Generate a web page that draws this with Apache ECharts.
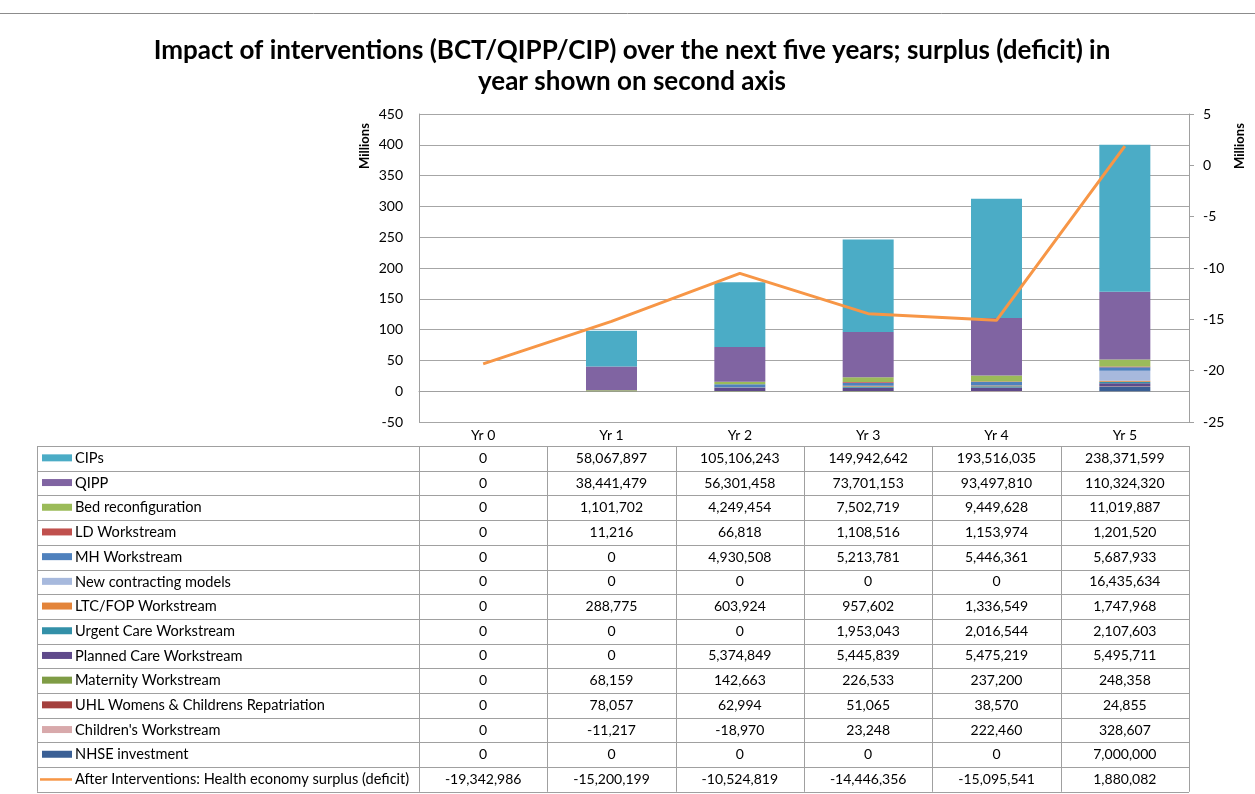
<!DOCTYPE html>
<html>
<head>
<meta charset="utf-8">
<script src="https://cdn.jsdelivr.net/npm/echarts@6/dist/echarts.min.js"></script>
<style>
  html, body { margin: 0; padding: 0; background: #fff; }
  #main { width: 1255px; height: 794px; }
</style>
</head>
<body>
<div id="main"></div>
<script>
const categories = ['Yr 0', 'Yr 1', 'Yr 2', 'Yr 3', 'Yr 4', 'Yr 5']

const cips = [0, 58067897, 105106243, 149942642, 193516035, 238371599]
const qipp = [0, 38441479, 56301458, 73701153, 93497810, 110324320]
const bedReconfiguration = [0, 1101702, 4249454, 7502719, 9449628, 11019887]
const ldWorkstream = [0, 11216, 66818, 1108516, 1153974, 1201520]
const mhWorkstream = [0, 0, 4930508, 5213781, 5446361, 5687933]
const newContracting = [0, 0, 0, 0, 0, 16435634]
const ltcFopWorkstream = [0, 288775, 603924, 957602, 1336549, 1747968]
const urgentCare = [0, 0, 0, 1953043, 2016544, 2107603]
const plannedCare = [0, 0, 5374849, 5445839, 5475219, 5495711]
const maternity = [0, 68159, 142663, 226533, 237200, 248358]
const uhlRepatriation = [0, 78057, 62994, 51065, 38570, 24855]
const childrens = [0, -11217, -18970, 23248, 222460, 328607]
const nhseInvestment = [0, 0, 0, 0, 0, 7000000]
const surplus = [-19342986, -15200199, -10524819, -14446356, -15095541, 1880082]

const leftTicks = { min: -50e6, max: 450e6, interval: 50e6 }
const rightTicks = { min: -25e6, max: 5e6, interval: 5e6 }

// table order (top to bottom); bars stack in reverse order
const barRows = [
  { name: 'CIPs', data: cips, color: '#4BACC6' },
  { name: 'QIPP', data: qipp, color: '#8064A2' },
  { name: 'Bed reconfiguration', data: bedReconfiguration, color: '#9BBB59' },
  { name: 'LD Workstream', data: ldWorkstream, color: '#C0504D' },
  { name: 'MH Workstream', data: mhWorkstream, color: '#4F81BD' },
  { name: 'New contracting models', data: newContracting, color: '#A7B9DD' },
  { name: 'LTC/FOP Workstream', data: ltcFopWorkstream, color: '#E3843A' },
  { name: 'Urgent Care Workstream', data: urgentCare, color: '#3390A8' },
  { name: 'Planned Care Workstream', data: plannedCare, color: '#5F4A8B' },
  { name: 'Maternity Workstream', data: maternity, color: '#7F9C45' },
  { name: 'UHL Womens & Childrens Repatriation', data: uhlRepatriation, color: '#A4403D' },
  { name: "Children's Workstream", data: childrens, color: '#D8A9AB' },
  { name: 'NHSE investment', data: nhseInvestment, color: '#3A5F95' }
]
const lineRow = { name: 'After Interventions: Health economy surplus (deficit)', data: surplus, color: '#F79646' }

const FONT = 'Lato, "Open Sans", sans-serif'
const GRID_LINE = '#A6A6A6'
const TABLE_LINE = '#A0A0A0'

const chart = echarts.init(document.getElementById('main'))

const barSeries = barRows.slice().reverse().map(r => ({
  name: r.name,
  type: 'bar',
  stack: 'interventions',
  barWidth: 51,
  data: r.data,
  itemStyle: { color: r.color }
}))

chart.setOption({
  animation: false,
  textStyle: { fontFamily: FONT },
  title: {
    text: 'Impact of interventions (BCT/QIPP/CIP) over the next five years; surplus (deficit) in\nyear shown on second axis',
    left: 627,
    textAlign: 'center',
    top: 30,
    textStyle: { fontSize: 26, fontWeight: 'bold', color: '#000', lineHeight: 31, fontFamily: FONT }
  },
  grid: { left: 419, right: 66, top: 114, bottom: 372 },
  xAxis: {
    type: 'category',
    data: categories,
    axisLine: { lineStyle: { color: TABLE_LINE } },
    axisTick: { length: 24, lineStyle: { color: TABLE_LINE } },
    axisLabel: { color: '#000', fontSize: 14, margin: 6 }
  },
  yAxis: [
    {
      type: 'value',
      ...leftTicks,
      axisLine: { show: true, lineStyle: { color: TABLE_LINE } },
      axisTick: { show: false },
      axisLabel: { color: '#000', fontSize: 14, margin: 16, formatter: v => v / 1e6 },
      splitLine: { lineStyle: { color: GRID_LINE } }
    },
    {
      type: 'value',
      position: 'right',
      ...rightTicks,
      axisLine: { show: true, lineStyle: { color: TABLE_LINE } },
      axisTick: { show: true, length: 5, lineStyle: { color: TABLE_LINE } },
      axisLabel: { color: '#000', fontSize: 14, margin: 14, formatter: v => v / 1e6 },
      splitLine: { show: false }
    }
  ],
  series: [
    ...barSeries,
    {
      name: lineRow.name,
      type: 'line',
      yAxisIndex: 1,
      data: lineRow.data,
      symbol: 'none',
      z: 5,
      lineStyle: { color: lineRow.color, width: 3 }
    }
  ]
})

// data table under the axis, positioned from the category axis
const tableLeft = 37
const firstRowTop = 446
const rowH = 24.7
const centers = categories.map((c, i) => chart.convertToPixel({ xAxisIndex: 0 }, i))
const step = centers[1] - centers[0]
const bounds = [centers[0] - step / 2, ...centers.map(c => c + step / 2)]
const allRows = [...barRows, lineRow]
const tableBottom = firstRowTop + rowH * allRows.length

const graphic = []
graphic.push({ type: 'line', shape: { x1: 0, y1: 13.5, x2: 1255, y2: 13.5 }, style: { stroke: '#8C8C8C', lineWidth: 1 } })
graphic.push({ type: 'text', x: 365, y: 146, rotation: Math.PI / 2, style: { text: 'Millions', font: 'bold 13px ' + FONT, fill: '#000', align: 'center', verticalAlign: 'middle' } })
graphic.push({ type: 'text', x: 1240, y: 146, rotation: Math.PI / 2, style: { text: 'Millions', font: 'bold 13px ' + FONT, fill: '#000', align: 'center', verticalAlign: 'middle' } })

for (let i = 0; i <= allRows.length; i++) {
  const y = Math.round(firstRowTop + i * rowH) + 0.5
  graphic.push({ type: 'line', shape: { x1: tableLeft, y1: y, x2: bounds[bounds.length - 1], y2: y }, style: { stroke: TABLE_LINE, lineWidth: 1 } })
}
;[tableLeft, ...bounds].forEach(x => {
  const xx = Math.round(x) + 0.5
  graphic.push({ type: 'line', shape: { x1: xx, y1: firstRowTop, x2: xx, y2: tableBottom }, style: { stroke: TABLE_LINE, lineWidth: 1 } })
})

allRows.forEach((r, ri) => {
  const cy = firstRowTop + ri * rowH + rowH / 2
  if (r === lineRow) {
    graphic.push({ type: 'line', shape: { x1: 40, y1: cy, x2: 72, y2: cy }, style: { stroke: r.color, lineWidth: 2.5 } })
  } else {
    graphic.push({ type: 'rect', shape: { x: 42, y: cy - 4, width: 30, height: 7 }, style: { fill: r.color } })
  }
  graphic.push({ type: 'text', x: 75, y: cy, style: { text: r.name, font: '14.6px ' + FONT, fill: '#000', verticalAlign: 'middle' } })
  r.data.forEach((v, ci) => {
    graphic.push({ type: 'text', x: centers[ci], y: cy, style: { text: v.toLocaleString('en-US'), font: '14px ' + FONT, fill: '#000', align: 'center', verticalAlign: 'middle' } })
  })
})

chart.setOption({ graphic })
</script>
</body>
</html>
